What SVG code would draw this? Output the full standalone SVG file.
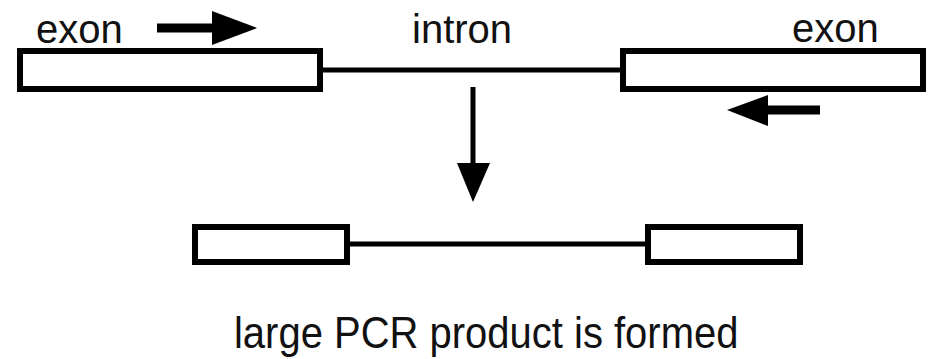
<svg xmlns="http://www.w3.org/2000/svg" width="932" height="359" viewBox="0 0 932 359">
<style>
.box{fill:#fff;stroke:#000;stroke-width:6}
.ln{stroke:#000;stroke-width:5;fill:none}
.t{font-family:"Liberation Sans",Arial,sans-serif;font-size:40px;fill:#111}
.ah{fill:#000}
</style>
<rect width="932" height="359" fill="#fff"/>
<g id="connectors">
<line class="ln" x1="322" y1="70" x2="622" y2="70"/>
<line class="ln" x1="349" y1="244" x2="646" y2="244"/>
<line class="ln" x1="473" y1="87" x2="473" y2="166"/>
<polygon class="ah" points="457,163 490,163 473,202"/>
</g>
<g id="exon-left">
<rect class="box" x="20" y="51" width="300" height="38"/>
<text class="t" x="36" y="43">exon</text>
</g>
<g id="intron">
<text class="t" x="412" y="43">intron</text>
</g>
<g id="exon-right">
<rect class="box" x="623" y="51" width="300" height="38"/>
<text class="t" x="792" y="42">exon</text>
</g>
<g id="primer-forward">
<rect x="157" y="23.5" width="58" height="9" fill="#000"/>
<polygon class="ah" points="212,11 257,28 212,45"/>
</g>
<g id="primer-reverse">
<rect x="765" y="105.5" width="55" height="9" fill="#000"/>
<polygon class="ah" points="768,95 727,110 768,126"/>
</g>
<g id="product">
<rect class="box" x="195" y="227" width="152" height="35"/>
<rect class="box" x="648" y="227" width="152" height="35"/>
<text class="t" x="234" y="348" transform="translate(0,348) scale(1,1.1) translate(0,-348)">large PCR product is formed</text>
</g>
</svg>
